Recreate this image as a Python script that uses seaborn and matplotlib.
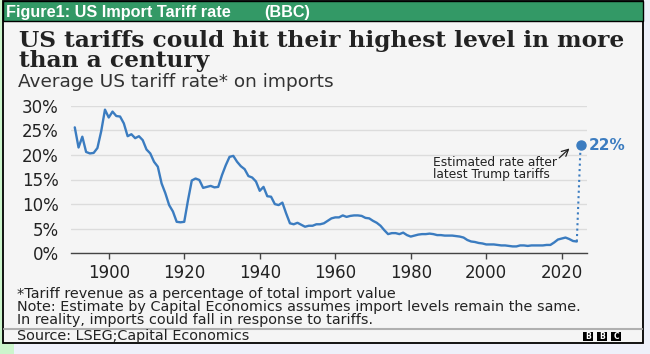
import matplotlib
matplotlib.use("Agg")
import matplotlib.pyplot as plt
import seaborn as sns
import pandas as pd
from matplotlib.patches import Rectangle
from matplotlib.lines import Line2D

# ---- data ----
years = list(range(1891, 2025))
rates = [
    25.6, 21.5, 23.7, 20.6, 20.3, 20.4, 21.4, 24.8, 29.2,        # 1891-1899
    27.6, 28.8, 27.9, 27.8, 26.4, 23.8, 24.2, 23.4, 23.8, 23.0,  # 1900s
    21.1, 20.3, 18.6, 17.6, 14.2, 12.2, 9.8, 8.5, 6.4, 6.3,      # 1910s
    6.4, 10.8, 14.8, 15.2, 14.9, 13.3, 13.5, 13.7, 13.4, 13.5,   # 1920s
    15.9, 17.9, 19.6, 19.8, 18.6, 17.7, 17.1, 15.7, 15.4, 14.6,  # 1930s
    12.7, 13.5, 11.6, 11.5, 10.0, 9.8, 10.3, 8.1, 6.1, 5.9,      # 1940s
    6.2, 5.8, 5.4, 5.6, 5.6, 5.9, 5.9, 6.1, 6.6, 7.1,            # 1950s
    7.3, 7.3, 7.7, 7.4, 7.6, 7.7, 7.7, 7.6, 7.2, 7.1,            # 1960s
    6.6, 6.2, 5.6, 4.7, 3.9, 4.1, 4.1, 3.9, 4.2, 3.7,            # 1970s
    3.4, 3.6, 3.8, 3.9, 3.9, 4.0, 3.9, 3.7, 3.7, 3.6,            # 1980s
    3.6, 3.6, 3.5, 3.4, 3.2, 2.7, 2.4, 2.3, 2.1, 2.0,            # 1990s
    1.8, 1.8, 1.8, 1.7, 1.6, 1.6, 1.5, 1.4, 1.4, 1.6,            # 2000s
    1.6, 1.5, 1.6, 1.6, 1.6, 1.6, 1.7, 1.7, 2.2, 2.8,            # 2010s
    3.0, 3.2, 2.9, 2.5, 2.4,                                     # 2020-2024
]
est_year = 2025
est_rate = 22
y_ticks = [0, 5, 10, 15, 20, 25, 30]
x_ticks = [1900, 1920, 1940, 1960, 1980, 2000, 2020]

header = "Figure1: US Import Tariff rate"
header_tag = "(BBC)"
title_lines = ["US tariffs could hit their highest level in more", "than a century"]
subtitle = "Average US tariff rate* on imports"
notes = [
    "*Tariff revenue as a percentage of total import value",
    "Note: Estimate by Capital Economics assumes import levels remain the same.",
    "In reality, imports could fall in response to tariffs.",
]
source = "Source: LSEG;Capital Economics"

BLUE = "#3b7cc0"
W, H = 650, 354

sns.set_theme(style="whitegrid")
plt.rcParams["font.family"] = ["DejaVu Sans"]

fig = plt.figure(figsize=(W / 100, H / 100), dpi=100, facecolor="#eef0fa")


def fx(px):
    return px / W


def fy(py):
    return 1 - py / H


def box(x0, y0, x1, y1, **kw):
    # page furniture sits behind the axes
    kw.setdefault("zorder", -10)
    fig.patches.append(Rectangle((fx(x0), fy(y1)), (x1 - x0) / W, (y1 - y0) / H,
                                 transform=fig.transFigure, **kw))


def fit(t, width_px):
    r = fig.canvas.get_renderer()
    w = t.get_window_extent(r).width
    t.set_fontsize(t.get_fontsize() * width_px / w)
    return t.get_fontsize()


# page furniture
box(0, 0, 3, H, facecolor="#ccf5cc", edgecolor="none")
box(0, 343, 14, H, facecolor="#ccf5cc", edgecolor="none")
box(3, 1, 643, 343, facecolor="#f5f5f5", edgecolor="black", lw=1.3)
box(3, 1, 643, 21, facecolor="#339966", edgecolor="black", lw=1.0, zorder=-9)
fig.lines.append(Line2D([fx(4), fx(642)], [fy(329), fy(329)], transform=fig.transFigure,
                        color="#b0b0b0", lw=1.5))

# header texts
hdr_font = ["Liberation Sans Narrow", "Liberation Sans"]
t = fig.text(fx(6), fy(17), header, color="white", weight="bold", fontsize=12,
             family=hdr_font, va="baseline")
fit(t, 224)
fig.text(fx(264), fy(17), header_tag, color="white", weight="bold",
         fontsize=t.get_fontsize(), family=hdr_font, va="baseline")

# titles
t1 = fig.text(fx(19), fy(47), title_lines[0], family="DejaVu Serif", weight="bold",
              color="#222222", fontsize=15, va="baseline")
size = fit(t1, 606)
fig.text(fx(19), fy(67.5), title_lines[1], family="DejaVu Serif", weight="bold",
         color="#222222", fontsize=size, va="baseline")
st = fig.text(fx(18), fy(87), subtitle, color="#333333", fontsize=11, va="baseline")
fit(st, 316)

# chart
ax = fig.add_axes([fx(71), fy(253.3), (587 - 71) / W, (253.3 - 105.7) / H])
ax.set_facecolor("none")
df = pd.DataFrame({"year": years, "rate": rates})
sns.lineplot(data=df, x="year", y="rate", ax=ax, color=BLUE, lw=1.7)
ax.plot([years[-1], est_year], [rates[-1], est_rate], color=BLUE, lw=1.5,
        ls=(0, (1, 1.6)), clip_on=False)
ax.plot([est_year], [est_rate], "o", color=BLUE, ms=6.5, clip_on=False, zorder=5)
ax.text(2027.2, est_rate, f"{est_rate}%", color=BLUE, weight="bold", fontsize=11,
        va="center", ha="left", clip_on=False)
ax.annotate("", xy=(2022.6, 21.7), xytext=(2018.8, 19.0),
            arrowprops=dict(arrowstyle="->", color="#222222", lw=0.9))
ax.text(1985.9, 17.3, "Estimated rate after\nlatest Trump tariffs", fontsize=8.8,
        color="#222222", va="center", ha="left", linespacing=0.9)

ax.set_xlim(1890, 2026.7)
ax.set_ylim(0, 30)
ax.set_xticks(x_ticks)
ax.set_xticklabels([str(v) for v in x_ticks])
ax.set_yticks(y_ticks)
ax.set_yticklabels([f"{v}%" for v in y_ticks])
ax.set_xlabel("")
ax.set_ylabel("")
ax.grid(axis="y", color="#dcdcdc", lw=1)
ax.grid(axis="x", visible=False)
for side in ["left", "right", "top"]:
    ax.spines[side].set_visible(False)
ax.spines["bottom"].set_color("#444444")
ax.spines["bottom"].set_linewidth(1)
ax.tick_params(axis="x", length=4, width=1, color="#444444", pad=4,
               labelsize=12, labelcolor="#222222", bottom=True)
ax.tick_params(axis="y", length=0, pad=9, labelsize=12, labelcolor="#222222")

# footnotes
n2 = fig.text(fx(17), fy(311), notes[1], color="#222222", fontsize=8, va="baseline")
nsize = fit(n2, 566)
fig.text(fx(17), fy(298), notes[0], color="#222222", fontsize=nsize, va="baseline")
fig.text(fx(17), fy(324), notes[2], color="#222222", fontsize=nsize, va="baseline")
fig.text(fx(17), fy(340), source, color="#222222", fontsize=nsize, va="baseline")

# BBC blocks
for x0, letter in zip([583, 597, 611], "BBC"):
    box(x0, 332, x0 + 10, 341, facecolor="black", edgecolor="none", zorder=-8)
    fig.text(fx(x0 + 5), fy(336.5), letter, color="white", weight="bold", fontsize=5.5,
             ha="center", va="center")

fig.savefig("out.png", dpi=100, facecolor=fig.get_facecolor())
